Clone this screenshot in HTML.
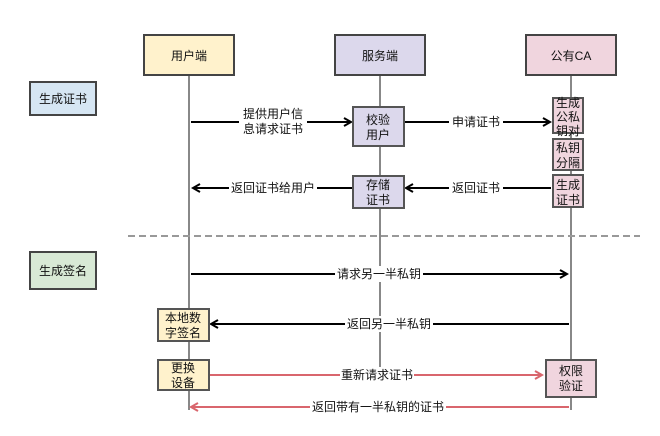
<!DOCTYPE html>
<html><head><meta charset="utf-8"><style>
html,body{margin:0;padding:0;background:#fff;width:660px;height:436px;overflow:hidden}
svg text{font-family:"Liberation Sans","Noto Sans CJK SC",sans-serif;font-size:12px;fill:#111}
</style></head><body>
<svg width="660" height="436" viewBox="0 0 660 436">
<defs>
<marker id="ab" markerWidth="10" markerHeight="10" refX="8" refY="5" orient="auto" markerUnits="userSpaceOnUse"><path d="M1,1 L8,5 L1,9" fill="none" stroke="#000" stroke-width="2"/></marker>
<marker id="ar" markerWidth="10" markerHeight="10" refX="8" refY="5" orient="auto" markerUnits="userSpaceOnUse"><path d="M1,1 L8,5 L1,9" fill="none" stroke="#d9666d" stroke-width="2"/></marker>
</defs>
<!-- lifelines -->
<g stroke="#888" stroke-width="2">
<line x1="189" y1="75" x2="189" y2="410"/>
<line x1="380" y1="75" x2="380" y2="372"/>
<line x1="571" y1="75" x2="571" y2="410"/>
</g>
<!-- headers -->
<g stroke="#444" stroke-width="2">
<rect x="144" y="35" width="90" height="40" fill="#fff2cc"/>
<rect x="335" y="35" width="90" height="40" fill="#dcd8ec"/>
<rect x="526" y="35" width="90" height="40" fill="#f0d5de"/>
<rect x="30" y="82" width="66" height="33" fill="#d6e6f3"/>
<rect x="30" y="252" width="66" height="37" fill="#d8e9d5"/>
</g>
<text x="189" y="60" text-anchor="middle">用户端</text>
<text x="380" y="60" text-anchor="middle">服务端</text>
<text x="571" y="60" text-anchor="middle">公有CA</text>
<text x="63" y="103" text-anchor="middle">生成证书</text>
<text x="63" y="275" text-anchor="middle">生成签名</text>
<!-- dashed -->
<line x1="128" y1="236" x2="640" y2="236" stroke="#999" stroke-width="2" stroke-dasharray="7,4"/>
<!-- arrows -->
<g stroke="#000" stroke-width="2" fill="none">
<line x1="191" y1="122" x2="351" y2="122" marker-end="url(#ab)"/>
<line x1="404" y1="122" x2="550" y2="122" marker-end="url(#ab)"/>
<line x1="551" y1="188" x2="406" y2="188" marker-end="url(#ab)"/>
<line x1="352" y1="188" x2="193" y2="188" marker-end="url(#ab)"/>
<line x1="191" y1="274" x2="567" y2="274" marker-end="url(#ab)"/>
<line x1="569" y1="324" x2="211" y2="324" marker-end="url(#ab)"/>
</g>
<g stroke="#d9666d" stroke-width="2" fill="none">
<line x1="210" y1="375" x2="542" y2="375" marker-end="url(#ar)"/>
<line x1="569" y1="407" x2="191" y2="407" marker-end="url(#ar)"/>
</g>
<!-- label backgrounds -->
<g fill="#fff">
<rect x="239" y="105" width="68" height="32"/>
<rect x="449" y="114" width="54" height="16"/>
<rect x="449" y="180" width="54" height="16"/>
<rect x="229" y="180" width="88" height="16"/>
<rect x="335" y="266" width="88" height="16"/>
<rect x="345" y="316" width="88" height="16"/>
<rect x="340" y="367" width="74" height="16"/>
<rect x="310" y="399" width="136" height="16"/>
</g>
<text x="273" y="118" text-anchor="middle">提供用户信</text>
<text x="273" y="133" text-anchor="middle">息请求证书</text>
<text x="476" y="126" text-anchor="middle">申请证书</text>
<text x="476" y="192" text-anchor="middle">返回证书</text>
<text x="273" y="192" text-anchor="middle">返回证书给用户</text>
<text x="379" y="278" text-anchor="middle">请求另一半私钥</text>
<text x="389" y="328" text-anchor="middle">返回另一半私钥</text>
<text x="377" y="379" text-anchor="middle">重新请求证书</text>
<text x="378" y="411" text-anchor="middle">返回带有一半私钥的证书</text>
<!-- activation boxes -->
<g stroke="#555" stroke-width="2">
<rect x="353" y="107" width="51" height="39" fill="#dcd8ec"/>
<rect x="353" y="176" width="51" height="32" fill="#dcd8ec"/>
<rect x="553" y="98" width="30" height="35" fill="#f0d5de"/>
<rect x="553" y="139" width="30" height="31" fill="#f0d5de"/>
<rect x="553" y="175" width="30" height="32" fill="#f0d5de"/>
<rect x="158" y="309" width="51" height="32" fill="#fff2cc"/>
<rect x="158" y="360" width="51" height="30" fill="#fff2cc"/>
<rect x="546" y="360" width="50" height="37" fill="#f0d5de"/>
</g>
<g text-anchor="middle">
<text x="378" y="124">校验</text><text x="378" y="139">用户</text>
<text x="378" y="189">存储</text><text x="378" y="204">证书</text>
<text x="568" y="107">生成</text><text x="568" y="121">公私</text><text x="568" y="135">钥对</text>
<text x="568" y="152">私钥</text><text x="568" y="167">分隔</text>
<text x="568" y="189">生成</text><text x="568" y="204">证书</text>
<text x="183" y="322">本地数</text><text x="183" y="337">字签名</text>
<text x="183" y="372">更换</text><text x="183" y="387">设备</text>
<text x="571" y="375">权限</text><text x="571" y="390">验证</text>
</g>
</svg>
</body></html>
